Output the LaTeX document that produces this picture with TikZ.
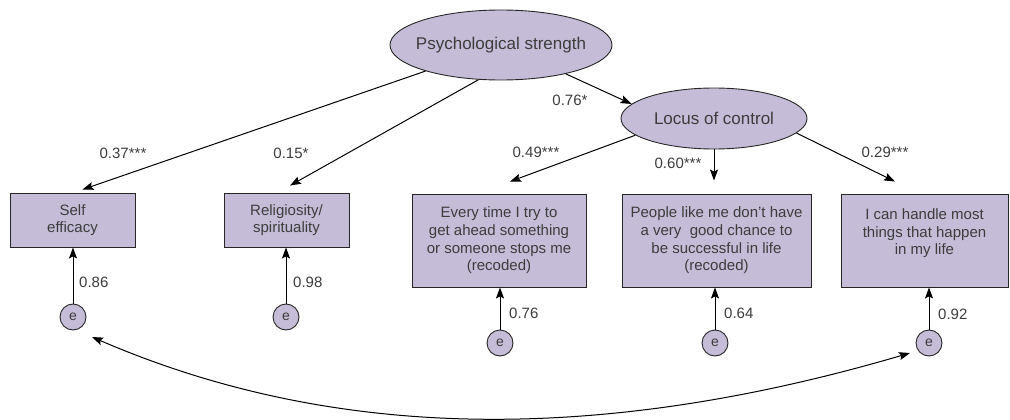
\documentclass[tikz,border=0pt]{standalone}
\usepackage{fontspec}
\setmainfont{Liberation Sans}
\usetikzlibrary{shapes.geometric,arrows.meta,calc}
\definecolor{lav}{HTML}{C5BDD7}
\definecolor{txt}{HTML}{3C3C3C}
\begin{document}
\begin{tikzpicture}[x=1pt,y=-1pt,
  every node/.style={text=txt},
  ell/.style={ellipse, draw=black!85, fill=lav, line width=0.9pt, inner sep=0pt, font=\fontsize{17}{20}\selectfont},
  box/.style={rectangle, draw=black!85, fill=lav, line width=0.9pt, align=center, inner sep=0pt, font=\fontsize{15}{17.7}\selectfont},
  err/.style={circle, draw=black!85, fill=lav, line width=0.9pt, minimum size=26pt, inner sep=0pt, font=\fontsize{14}{16}\selectfont},
  arr/.style={-{Stealth[length=11pt,width=8pt,inset=2pt]}, line width=1pt, black},
  darr/.style={{Stealth[length=11pt,width=8pt,inset=2pt]}-{Stealth[length=11pt,width=8pt,inset=2pt]}, line width=1pt, black},
  lab/.style={font=\fontsize{15}{17}\selectfont, inner sep=0pt},
]
\useasboundingbox (0,0) rectangle (1010,420);

% latent variables
\node[ell, minimum width=222pt, minimum height=70pt] (ps) at (501,45) {\makebox[0pt]{Psychological strength}};
\node[ell, minimum width=186pt, minimum height=61pt] (loc) at (714,118.5) {\makebox[0pt]{Locus of control}};

% observed variables
\node[box, minimum width=125pt, minimum height=54pt] (se) at (72.5,220) {Self\\efficacy};
\node[box, minimum width=125pt, minimum height=54pt] (rel) at (286.5,220) {Religiosity/\\spirituality};
\node[box, minimum width=174pt, minimum height=93pt] (b3) at (499,240.5) {Every time I try to\\get ahead something\\or someone stops me\\(recoded)};
\node[box, minimum width=189pt, minimum height=93pt] (b4) at (716.5,240.5) {People like me don’t have\\a very\ \ good chance to\\be successful in life\\(recoded)};
\node[box, minimum width=167pt, minimum height=93pt] (b5) at (924.5,240.5) {I can handle most\\things that happen\\in my life\\\mbox{}};

% error terms
\node[err] (e1) at (73,317) {e};
\node[err] (e2) at (286,317) {e};
\node[err] (e3) at (500,343) {e};
\node[err] (e4) at (715,343) {e};
\node[err] (e5) at (929,343) {e};

% structural paths
\draw[arr] (ps) -- ($(se.north)+(10,-3)$);
\draw[arr] (ps.237) -- ($(rel.north)+(3.5,-7)$);
\draw[arr] (ps.-24) -- (loc.170);
\draw[arr] (loc.192) -- ($(b3.north)+(11,-12)$);
\draw[arr] (loc.south) -- ($(loc.south |- b4.north)+(0,-13)$);
\draw[arr] (loc.-10) -- ($(b5.north)+(-29.5,-12)$);

% error paths
\draw[arr] (e1) -- (e1 |- se.south);
\draw[arr] (e2) -- (e2 |- rel.south);
\draw[arr] (e3) -- (e3 |- b3.south);
\draw[arr] (e4) -- (e4 |- b4.south);
\draw[arr] (e5) -- (e5 |- b5.south);

% correlated errors
\coordinate (cl) at ($(e1)+(19,20)$);
\coordinate (cr) at ($(e5)+(-19,10)$);
\draw[darr] (cl) .. controls (342,445) and (610,441) .. (cr);

% coefficients
\node[lab] (l1) at (123,153) {0.37***};
\node[lab] (l2) at (291,153) {0.15*};
\node[lab] (l3) at (570,100) {0.76*};
\node[lab] (l4) at (536,152) {0.49***};
\node[lab] (l5) at (678,163) {0.60***};
\node[lab] (l6) at (885,152) {0.29***};
\node[lab, anchor=west] (m1) at (79,282) {0.86};
\node[lab, anchor=west] (m2) at (293,282) {0.98};
\node[lab, anchor=west] (m3) at (509,313) {0.76};
\node[lab, anchor=west] (m4) at (724,313) {0.64};
\node[lab, anchor=west] (m5) at (938,314) {0.92};
\end{tikzpicture}
\end{document}
